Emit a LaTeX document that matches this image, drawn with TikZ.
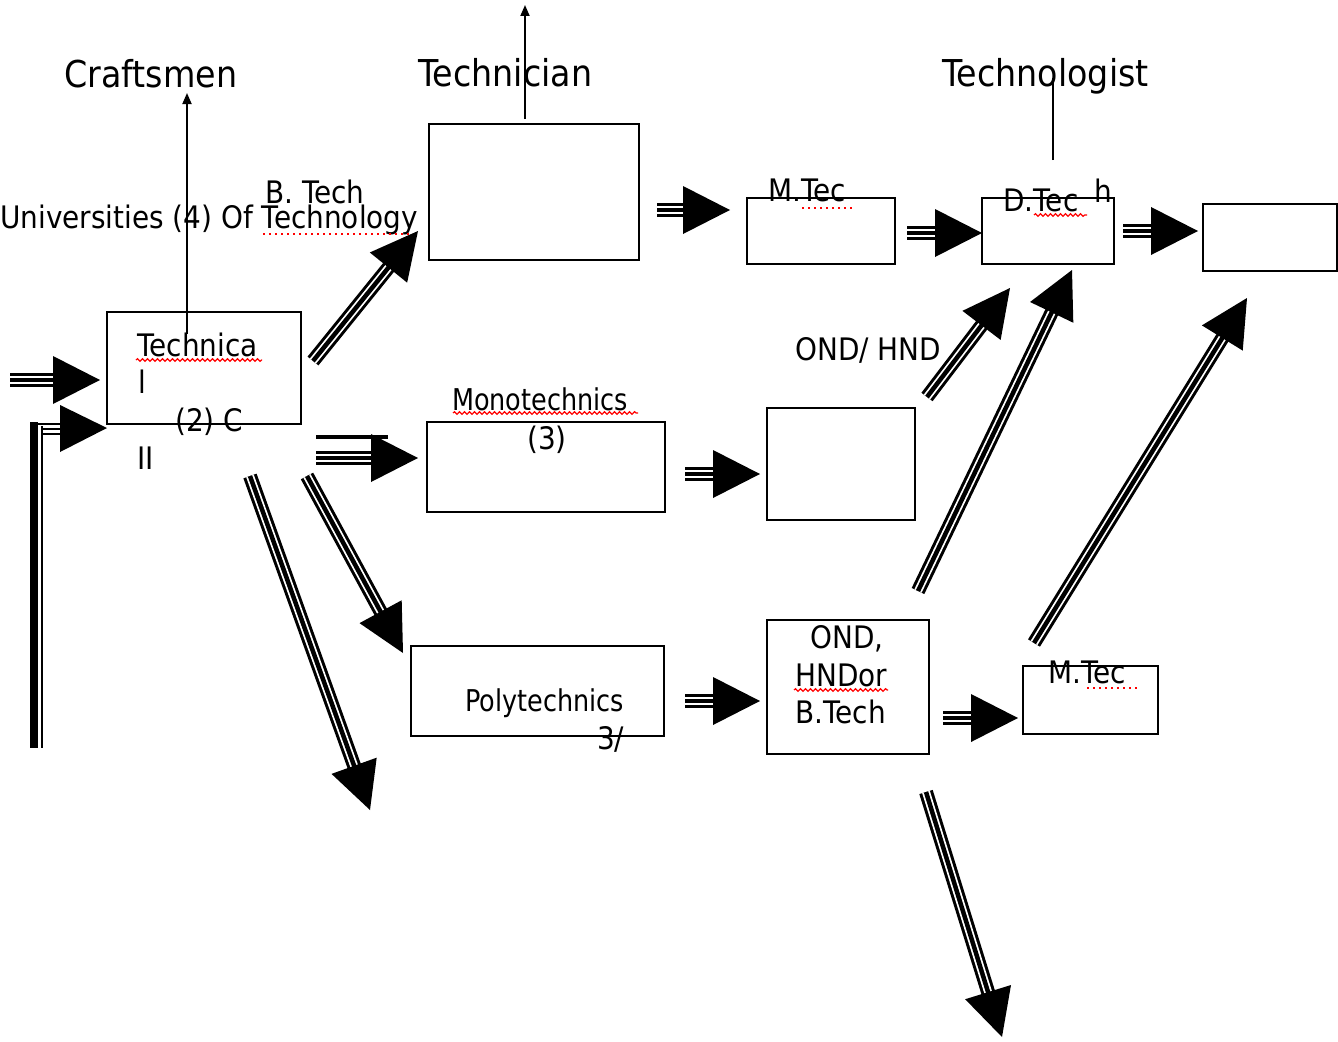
\documentclass[tikz,border=0pt]{standalone}
\usepackage{fontspec}
\setmainfont{DejaVu Sans}[FakeStretch=0.9]
\newfontfamily\narrowfont{DejaVu Sans}[FakeStretch=0.85]
\usetikzlibrary{calc,decorations.pathmorphing,arrows.meta}

\tikzset{
  box/.style={draw, line width=2pt, inner sep=0pt},
  lbl/.style={anchor=base west, inner sep=0pt, font=\fontsize{31}{31}\selectfont},
  heading/.style={anchor=base west, inner sep=0pt, font=\fontsize{37}{37}\selectfont},
  narrow/.style={anchor=base west, inner sep=0pt, font=\narrowfont\fontsize{30}{30}\selectfont},
  shaftout/.style={line width=14pt},
  shaftgap/.style={line width=8pt, white},
  shaftcore/.style={line width=4.5pt},
  spell/.style={red, line width=1.2pt, decorate,
    decoration={snake, amplitude=1.3pt, segment length=5pt}},
  spelldot/.style={red, line width=1.6pt, dash pattern=on 1.6pt off 4.4pt},
  thinarrow/.style={line width=1.8pt, -{Triangle[length=11pt,width=9pt]}},
}

% striped block arrow: three-line shaft and a solid triangular head
\newcommand\stripearrow[2]{%
  \draw[shaftout] (#1) -- ($(#2)!42pt!(#1)$);
  \draw[shaftgap] (#1) -- ($(#2)!42pt!(#1)$);
  \draw[shaftcore] (#1) -- ($(#2)!42pt!(#1)$);
  \coordinate (hb) at ($(#2)!47pt!(#1)$);
  \fill ($(hb)!24pt!90:(#2)$) -- (#2) -- ($(hb)!24pt!-90:(#2)$) -- cycle;
}

\begin{document}
\begin{tikzpicture}[x=1pt, y=-1pt]
\useasboundingbox (0,0) rectangle (1338,1041);
\fill[white] (0,0) rectangle (1338,1041);

% ---- boxes ----
\node[box, minimum width=194pt, minimum height=112pt] (tech)  at (204,368) {};
\node[box, minimum width=210pt, minimum height=136pt] (btech) at (534,192) {};
\node[box, minimum width=148pt, minimum height=66pt]  (mtecA) at (821,231) {};
\node[box, minimum width=132pt, minimum height=66pt]  (dtech) at (1048,231) {};
\node[box, minimum width=134pt, minimum height=67pt]  (last)  at (1270,237.5) {};
\node[box, minimum width=238pt, minimum height=90pt]  (mono)  at (546,467) {};
\node[box, minimum width=148pt, minimum height=112pt] (mid)   at (841,464) {};
\node[box, minimum width=253pt, minimum height=90pt]  (poly)  at (537.5,691) {};
\node[box, minimum width=162pt, minimum height=134pt] (ond)   at (848,687) {};
\node[box, minimum width=135pt, minimum height=68pt]  (mtecB) at (1090.5,700) {};

% ---- headings ----
\node[heading] (hcraft) at (64,88) {Craftsmen};
\node[heading] (htechn) at (418,86) {Technician};
\node[heading] (htlog)  at (942,86) {Technologist};

% ---- labels ----
\node[lbl] (univ) at (0,228) {Universities (4) Of Technology};
\node[lbl] (btl)  at (265,203) {B. Tech};
\node[lbl] (tc1)  at (137,356) {Technica};
\node[lbl] (tc2)  at (138,393) {l};
\node[lbl] (tc3)  at (175,431) {(2) C};
\node[lbl] (tc4)  at (137,469) {II};
\node[narrow] (monol) at (452,410) {Monotechnics};
\node[lbl] (mono3) at (527,449) {(3)};
\node[lbl] (mtA)  at (768,201) {M.Tec};
\node[lbl] (dtl)  at (1003,211) {D.Tec};
\node[lbl] (dth)  at (1094,202) {h};
\node[lbl] (ondh) at (795,360) {OND/ HND};
\node[lbl] (o1)   at (810,648) {OND,};
\node[lbl] (o2)   at (795,686) {HNDor};
\node[lbl] (o3)   at (795,723) {B.Tech};
\node[narrow] (polyl) at (465,711) {Polytechnics};
\node[lbl] (poly3) at (597,749) {3/};
\node[lbl] (mtB)  at (1048,683) {M.Tec};

% ---- spelling marks ----
\draw[spell] (136,360) -- (262,360);
\draw[spell] (453,413) -- (638,413);
\draw[spell] (794,690) -- (888,690);
\draw[spell] (1034,215) -- (1087,215);
\draw[spelldot] (263,234) -- (417,234);
\draw[spelldot] (802,208) -- (852,208);
\draw[spelldot] (1087,688) -- (1140,688);

% ---- thin vertical connectors ----
\coordinate (craftTop) at (187,93);
\coordinate (craftBot) at (187,334);
\draw[thinarrow] (craftBot) -- (craftTop);
\coordinate (techTop) at (525,5);
\coordinate (techBot) at (525,119);
\draw[thinarrow] (techBot) -- (techTop);
\coordinate (tlogTop) at (1053,78);
\coordinate (tlogBot) at (1053,160);
\draw[line width=1.8pt] (tlogBot) -- (tlogTop);

% ---- striped block arrows ----
\coordinate (a1s) at (10,380);   \coordinate (a1e) at (100,380);
\coordinate (a3s) at (313,361);  \coordinate (a3e) at (418,231);
\coordinate (a4s) at (316,458);  \coordinate (a4e) at (418,458);
\coordinate (a5s) at (307,476);  \coordinate (a5e) at (403,653);
\coordinate (a6s) at (250,476);  \coordinate (a6e) at (370,810);
\coordinate (a7s) at (657,210);  \coordinate (a7e) at (730,210);
\coordinate (a8s) at (907,233);  \coordinate (a8e) at (982,233);
\coordinate (a9s) at (1123,231); \coordinate (a9e) at (1198,231);
\coordinate (a10s) at (685,474); \coordinate (a10e) at (760,474);
\coordinate (a11s) at (685,701); \coordinate (a11e) at (760,701);
\coordinate (a12s) at (943,718); \coordinate (a12e) at (1018,718);
\coordinate (a13s) at (927,397); \coordinate (a13e) at (1010,288);
\coordinate (a14s) at (918,591); \coordinate (a14e) at (1072,270);
\coordinate (a15s) at (1034,643);\coordinate (a15e) at (1247,298);
\coordinate (a16s) at (926,792); \coordinate (a16e) at (1002,1037);

\stripearrow{a1s}{a1e}
\stripearrow{a3s}{a3e}
\stripearrow{a4s}{a4e}
\stripearrow{a5s}{a5e}
\stripearrow{a6s}{a6e}
\stripearrow{a7s}{a7e}
\stripearrow{a8s}{a8e}
\stripearrow{a9s}{a9e}
\stripearrow{a10s}{a10e}
\stripearrow{a11s}{a11e}
\stripearrow{a12s}{a12e}
\stripearrow{a13s}{a13e}
\stripearrow{a14s}{a14e}
\stripearrow{a15s}{a15e}
\stripearrow{a16s}{a16e}

% extra bar above the Monotechnics arrow
\draw[line width=3.5pt] (316,437) -- (388,437);

% bent arrow rising from the bottom left into the Technical box
\coordinate (lBot) at (34,748);
\coordinate (lTip) at (107,428);
\fill (30,422) rectangle (38,748);
\fill (40.5,426) rectangle (42.5,748);
\draw[line width=2pt] (38,424) -- (62,424);
\draw[line width=2.5pt] (41,429) -- (62,429);
\draw[line width=2pt] (41,434) -- (62,434);
\fill (60,405) -- (lTip) -- (60,452) -- cycle;
\end{tikzpicture}
\end{document}
